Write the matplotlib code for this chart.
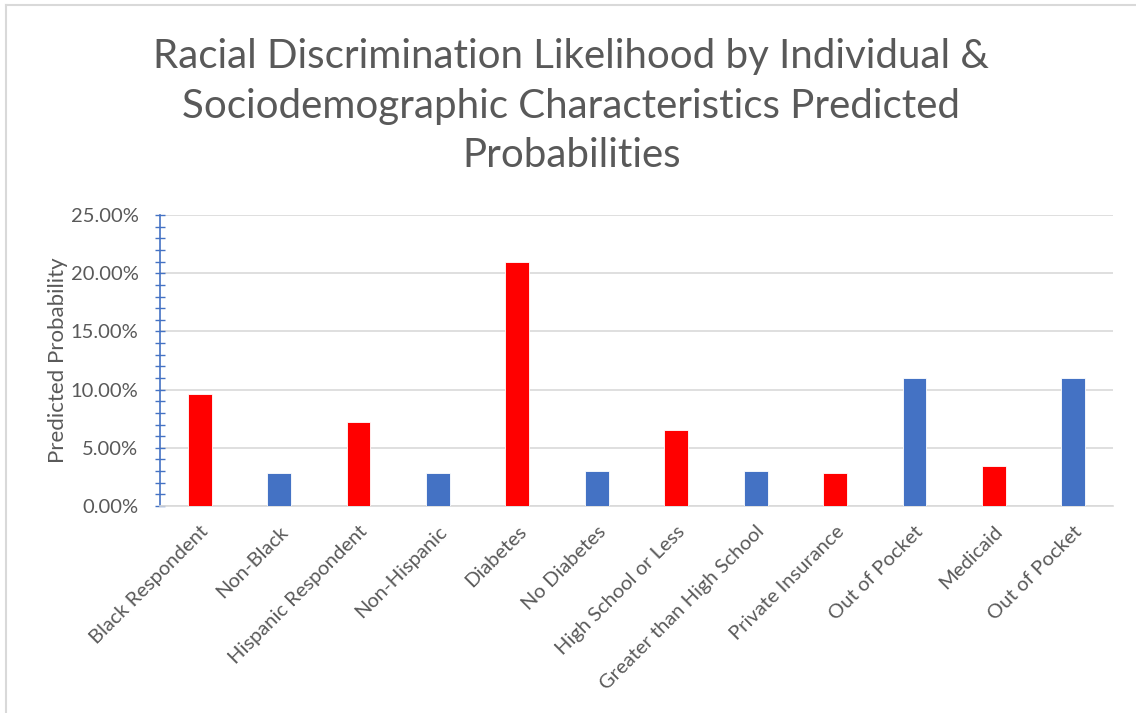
import matplotlib.pyplot as plt
import numpy as np
from matplotlib.ticker import MultipleLocator, PercentFormatter
from matplotlib.lines import Line2D

categories = ['Black Respondent', 'Non-Black', 'Hispanic Respondent', 'Non-Hispanic',
              'Diabetes', 'No Diabetes', 'High School or Less', 'Greater than High School',
              'Private Insurance', 'Out of Pocket', 'Medicaid', 'Out of Pocket']
probabilities = [0.096, 0.028, 0.072, 0.028, 0.21, 0.030, 0.065, 0.030,
                 0.028, 0.110, 0.034, 0.110]
bar_colors = ['#FF0000', '#4472C4'] * 6

plt.rcParams['font.family'] = ['Lato', 'DejaVu Sans']
text_grey = '#595959'

fig = plt.figure(figsize=(11.36, 7.13), dpi=100)
ax = fig.add_axes([0.1408, 0.2903, 0.839, 0.4081])

x = np.arange(len(categories))
ax.bar(x, probabilities, width=0.30, color=bar_colors, zorder=3,
       edgecolor='white', linewidth=0.6)

ax.set_xlim(-0.5, len(categories) - 0.5)
ax.set_ylim(0, 0.25)
ax.yaxis.set_major_locator(MultipleLocator(0.05))
ax.yaxis.set_minor_locator(MultipleLocator(0.01))
ax.yaxis.set_major_formatter(PercentFormatter(1.0, decimals=2))
ax.grid(axis='y', color='#D9D9D9', linewidth=1.2, zorder=0)

ax.set_xticks(x)
ax.set_xticklabels(categories, rotation=45, ha='right', rotation_mode='anchor')
ax.tick_params(axis='x', length=0, pad=12, labelsize=14.5, labelcolor=text_grey)
ax.tick_params(axis='y', which='both', direction='inout', length=7, width=1,
               color='#4472C4', labelsize=14.5, labelcolor=text_grey, pad=12)

for side in ['top', 'right']:
    ax.spines[side].set_visible(False)
ax.spines['left'].set_color('#4472C4')
ax.spines['left'].set_linewidth(1.2)
ax.spines['bottom'].set_color('#D9D9D9')
ax.spines['bottom'].set_linewidth(1.2)

ax.set_ylabel('Predicted Probability', fontsize=16, color=text_grey, labelpad=2)

fig.text(0.503, 0.851, 'Racial Discrimination Likelihood by Individual &\n'
         'Sociodemographic Characteristics Predicted\nProbabilities',
         ha='center', va='center', fontsize=29, color=text_grey, linespacing=1.42)

# chart frame
fig.add_artist(Line2D([6 / 1136, 6 / 1136], [0, 1 - 5 / 713], transform=fig.transFigure,
                      color='#D9D9D9', linewidth=1.5))
fig.add_artist(Line2D([6 / 1136, 1], [1 - 5 / 713, 1 - 5 / 713], transform=fig.transFigure,
                      color='#D9D9D9', linewidth=1.5))

fig.savefig('out.png', dpi=100)
